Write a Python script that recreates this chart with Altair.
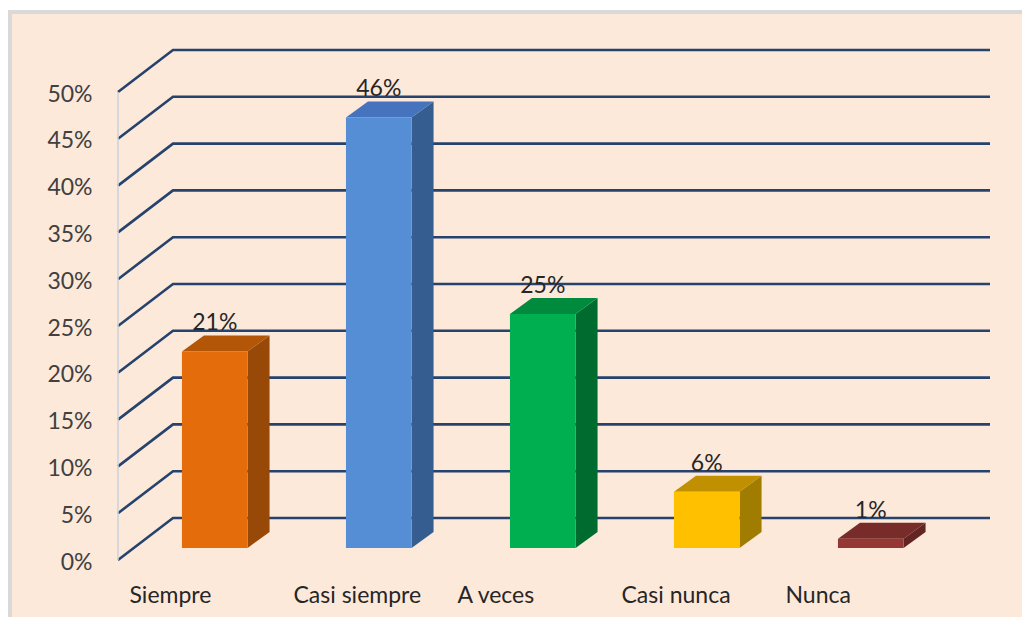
import json
import altair as alt
import pandas as pd

# ---- data ----
categories = ["Siempre", "Casi siempre", "A veces", "Casi nunca", "Nunca"]
values = [21, 46, 25, 6, 1]
front_colors = ["#E46C0A", "#558ED5", "#00B050", "#FFC000", "#953735"]
top_colors = ["#B45607", "#4673BD", "#008A3E", "#C09000", "#772C2A"]
side_colors = ["#984807", "#355D8F", "#006B2F", "#A07C00", "#632523"]
tick_values = [0, 5, 10, 15, 20, 25, 30, 35, 40, 45, 50]

# ---- pseudo-3D geometry (in scale units) ----
CAT_PX = 164.0
PCT_PX = 9.36
W, H = 882, 520
X_MAX = W / CAT_PX
Y_MAX = H / PCT_PX
bar_left = 0.39
bar_w = 0.40
depth_x = 22 / CAT_PX
depth_y = 16 / PCT_PX
base = 12 / PCT_PX
back_x = 55 / CAT_PX
back_y = 42 / PCT_PX
grid_end = (990 - 118) / CAT_PX

xs = alt.Scale(domain=[0, X_MAX], nice=False, zero=False)
ys = alt.Scale(domain=[0, Y_MAX], nice=False, zero=False)

# gridlines (front diagonal + back horizontal)
grid_rows = []
for t in tick_values:
    grid_rows += [
        {"t": t, "o": 0, "x": 0.0, "y": t},
        {"t": t, "o": 1, "x": back_x, "y": t + back_y},
        {"t": t, "o": 2, "x": grid_end, "y": t + back_y},
    ]
grid_df = pd.DataFrame(grid_rows)

front_rows, side_rows, top_rows, label_rows = [], [], [], []
for i, (c, v) in enumerate(zip(categories, values)):
    xl = i + bar_left
    xr = xl + bar_w
    T = base + v
    front_rows.append({"cat": c, "x": xl, "x2": xr, "y": base, "y2": T, "col": front_colors[i]})
    side_rows += [
        {"cat": c, "x": xr, "y": base, "y2": T, "col": side_colors[i]},
        {"cat": c, "x": xr + depth_x, "y": base + depth_y, "y2": T + depth_y, "col": side_colors[i]},
    ]
    top_rows += [
        {"cat": c, "x": xl, "y": T, "y2": T, "col": top_colors[i]},
        {"cat": c, "x": xl + depth_x, "y": T, "y2": T + depth_y, "col": top_colors[i]},
        {"cat": c, "x": xr, "y": T, "y2": T + depth_y, "col": top_colors[i]},
        {"cat": c, "x": xr + depth_x, "y": T + depth_y, "y2": T + depth_y, "col": top_colors[i]},
    ]
    label_rows.append({"cat": c, "x": (xl + xr) / 2, "y": T + depth_y, "txt": f"{v}%"})

front_df = pd.DataFrame(front_rows)
side_df = pd.DataFrame(side_rows)
top_df = pd.DataFrame(top_rows)
label_df = pd.DataFrame(label_rows)
axis_df = pd.DataFrame([{"x": 0.0, "y": 0, "y2": tick_values[-1]}])

FONT = "Lato"
cat_expr = json.dumps(categories) + "[datum.value]"

one = pd.DataFrame([{"a": 1}])
frame_left = alt.Chart(one).mark_rect(color="#D9D9D9").encode(
    x=alt.value(-110), x2=alt.value(-106), y=alt.value(-30), y2=alt.value(H + 60)
)
frame_top = alt.Chart(one).mark_rect(color="#D9D9D9").encode(
    x=alt.value(-110), x2=alt.value(W + 30), y=alt.value(-30), y2=alt.value(-26)
)
frame_white = alt.Chart(one).mark_rect(color="#FFFFFF").encode(
    x=alt.value(-112), x2=alt.value(W + 30), y=alt.value(-34), y2=alt.value(-30)
)

grid = alt.Chart(grid_df).mark_line(color="#26436D", strokeWidth=2.6).encode(
    x=alt.X("x:Q", scale=xs, axis=alt.Axis(
        values=list(range(len(categories))), labelExpr=cat_expr, title=None,
        grid=False, ticks=False, domain=False, labelAlign="left", labelOffset=11,
        labelBaseline="alphabetic", labelPadding=42, labelFont=FONT, labelFontSize=23,
        labelColor="#262626", labelFlush=False, labelOverlap=False, labelBound=False,
        zindex=1)),
    y=alt.Y("y:Q", scale=ys, axis=alt.Axis(
        values=tick_values, labelExpr="datum.value + '%'", title=None,
        grid=False, ticks=False, domain=False, labelPadding=26, labelOffset=2,
        labelFont=FONT, labelFontSize=23, labelColor="#404040", labelOverlap=False,
        zindex=1)),
    detail="t:N",
    order="o:Q",
)

front_axis = alt.Chart(axis_df).mark_rule(color="#C9D2DC", strokeWidth=1.5).encode(
    x=alt.X("x:Q", scale=xs), y=alt.Y("y:Q", scale=ys), y2="y2:Q"
)

side = alt.Chart(side_df).mark_area(interpolate="linear", opacity=1).encode(
    x=alt.X("x:Q", scale=xs),
    y=alt.Y("y:Q", scale=ys, stack=None),
    y2="y2:Q",
    detail="cat:N",
    color=alt.Color("col:N", scale=None),
)

top = alt.Chart(top_df).mark_area(interpolate="linear", opacity=1).encode(
    x=alt.X("x:Q", scale=xs),
    y=alt.Y("y:Q", scale=ys, stack=None),
    y2="y2:Q",
    detail="cat:N",
    color=alt.Color("col:N", scale=None),
)

front = alt.Chart(front_df).mark_rect(opacity=1, strokeWidth=0).encode(
    x=alt.X("x:Q", scale=xs), x2="x2:Q",
    y=alt.Y("y:Q", scale=ys), y2="y2:Q",
    color=alt.Color("col:N", scale=None),
)

labels = alt.Chart(label_df).mark_text(
    font=FONT, fontSize=23, color="#262626", baseline="middle", dy=-12
).encode(
    x=alt.X("x:Q", scale=xs), y=alt.Y("y:Q", scale=ys), text="txt:N"
)

chart = alt.layer(frame_white, frame_left, frame_top, grid, front_axis, side, top, front, labels).properties(
    width=W, height=H,
    autosize=alt.AutoSizeParams(type="none"),
    padding={"left": 110, "top": 32, "right": 22, "bottom": 57},
    background="#FDE9DA",
).configure_view(strokeWidth=0)

chart.save("out.html", embed_options={"renderer": "svg", "actions": False})
